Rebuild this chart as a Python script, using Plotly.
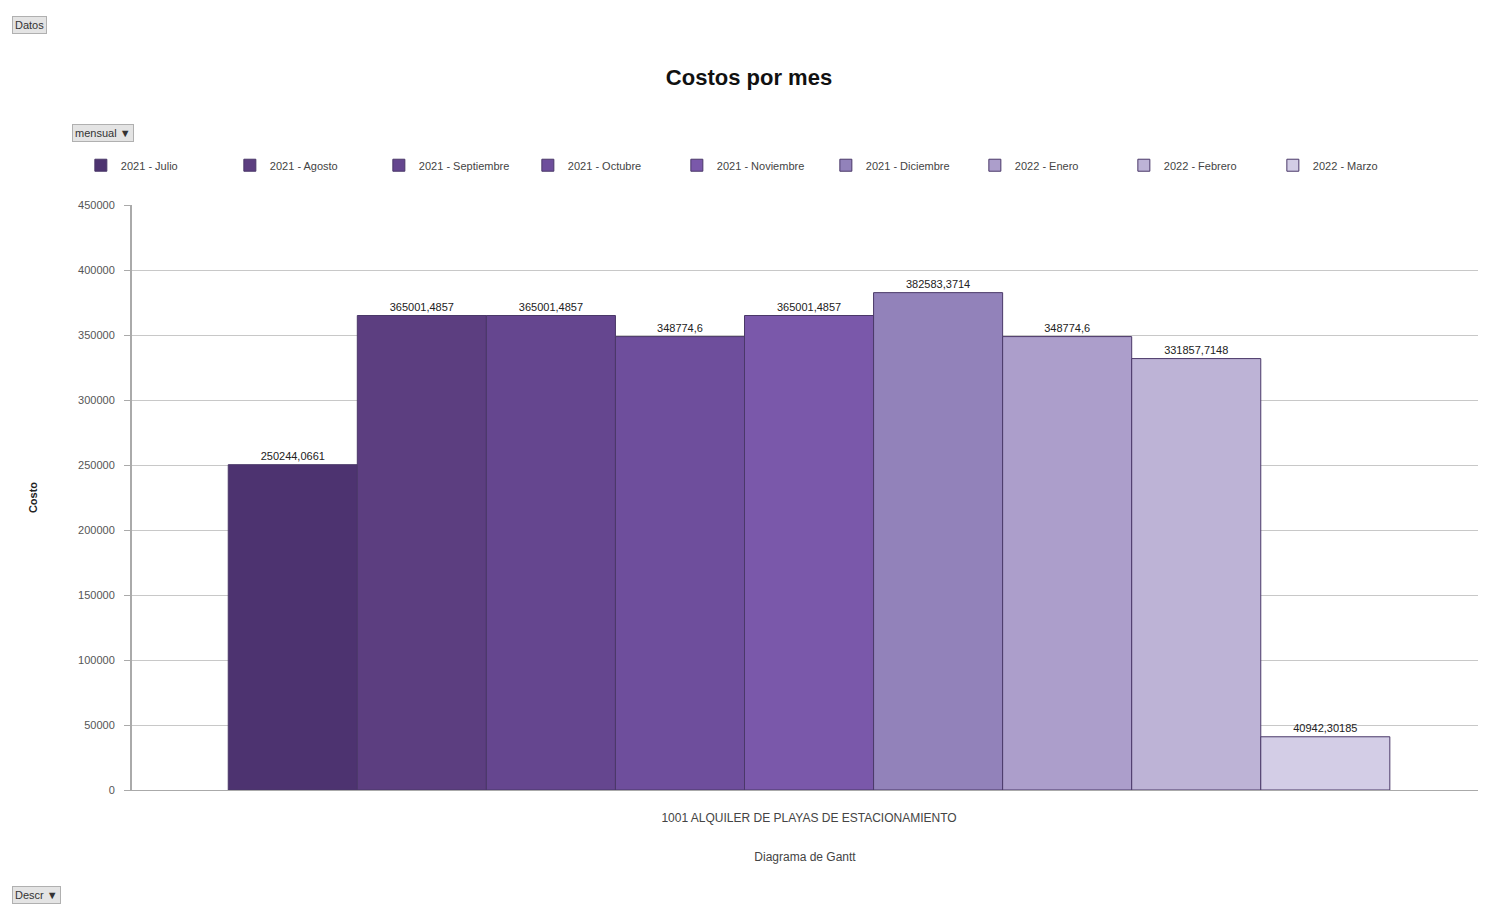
import plotly.graph_objects as go

categoria = ["1001 ALQUILER DE PLAYAS DE ESTACIONAMIENTO"]
meses = ["2021 - Julio", "2021 - Agosto", "2021 - Septiembre", "2021 - Octubre",
         "2021 - Noviembre", "2021 - Diciembre", "2022 - Enero", "2022 - Febrero", "2022 - Marzo"]
costos = [250244.0661, 365001.4857, 365001.4857, 348774.6, 365001.4857,
          382583.3714, 348774.6, 331857.7148, 40942.30185]
etiquetas = ["250244,0661", "365001,4857", "365001,4857", "348774,6", "365001,4857",
             "382583,3714", "348774,6", "331857,7148", "40942,30185"]
colores = ["#4d3370", "#5c3e80", "#65468f", "#6e4e9c", "#7a58aa",
           "#9282ba", "#ac9ecb", "#bdb3d6", "#d3cde6"]
y_ticks = [0, 50000, 100000, 150000, 200000, 250000, 300000, 350000, 400000, 450000]

fig = go.Figure()
for m, c, t, col in zip(meses, costos, etiquetas, colores):
    fig.add_trace(go.Bar(
        x=categoria, y=[c], name=m, text=[t], textposition="outside",
        textfont=dict(size=11, color="#222222"), cliponaxis=False,
        marker=dict(color=col, line=dict(color="#4a3868", width=1)),
    ))

fig.update_layout(
    width=1498, height=910,
    margin=dict(l=132, r=20, t=205, b=120),
    paper_bgcolor="white", plot_bgcolor="white",
    barmode="group", bargap=0.137, bargroupgap=0,
    font=dict(family="Liberation Sans, Arial, sans-serif", size=11, color="#333333"),
    title=dict(text="<b>Costos por mes</b>", x=0.5, xanchor="center", y=0.915,
               yanchor="middle", font=dict(size=22, color="#111111")),
    legend=dict(orientation="h", x=-0.038, xanchor="left", y=1.068, yanchor="middle",
                font=dict(size=11, color="#444444"), itemwidth=30,
                entrywidth=104, entrywidthmode="pixels",
                traceorder="normal", bgcolor="rgba(0,0,0,0)"),
    yaxis=dict(range=[0, 450000], tickvals=y_ticks, ticktext=[str(v) for v in y_ticks],
               showgrid=True, gridcolor="#c8c8c8", gridwidth=1,
               showline=True, linecolor="#aaaaaa", linewidth=2,
               ticks="outside", tickcolor="#aaaaaa", ticklen=6, ticklabelstandoff=7,
               title=dict(text="<b>Costo</b>", font=dict(size=11, color="#222222"), standoff=38),
               tickfont=dict(size=11, color="#555555"), zeroline=False),
    xaxis=dict(showline=True, linecolor="#aaaaaa", linewidth=1,
               range=[-0.503, 0.497], ticklabelstandoff=17,
               tickfont=dict(size=12, color="#444444"),
               title=dict(text="Diagrama de Gantt", font=dict(size=12, color="#444444"), standoff=28)),
)

botones = [("Datos", 0.008, 0.972), ("mensual ▼", 0.048, 0.854), ("Descr ▼", 0.008, 0.017)]
for txt, xx, yy in botones:
    fig.add_annotation(text=txt, xref="paper", yref="paper",
                       x=(xx * 1498 - 132) / 1346, y=(910 * yy - 120) / 585,
                       xanchor="left", yanchor="middle", showarrow=False,
                       bgcolor="#e4e4e4", bordercolor="#b0b0b0", borderwidth=1, borderpad=2,
                       font=dict(size=11, color="#333333"))

fig.write_html("out.html")
